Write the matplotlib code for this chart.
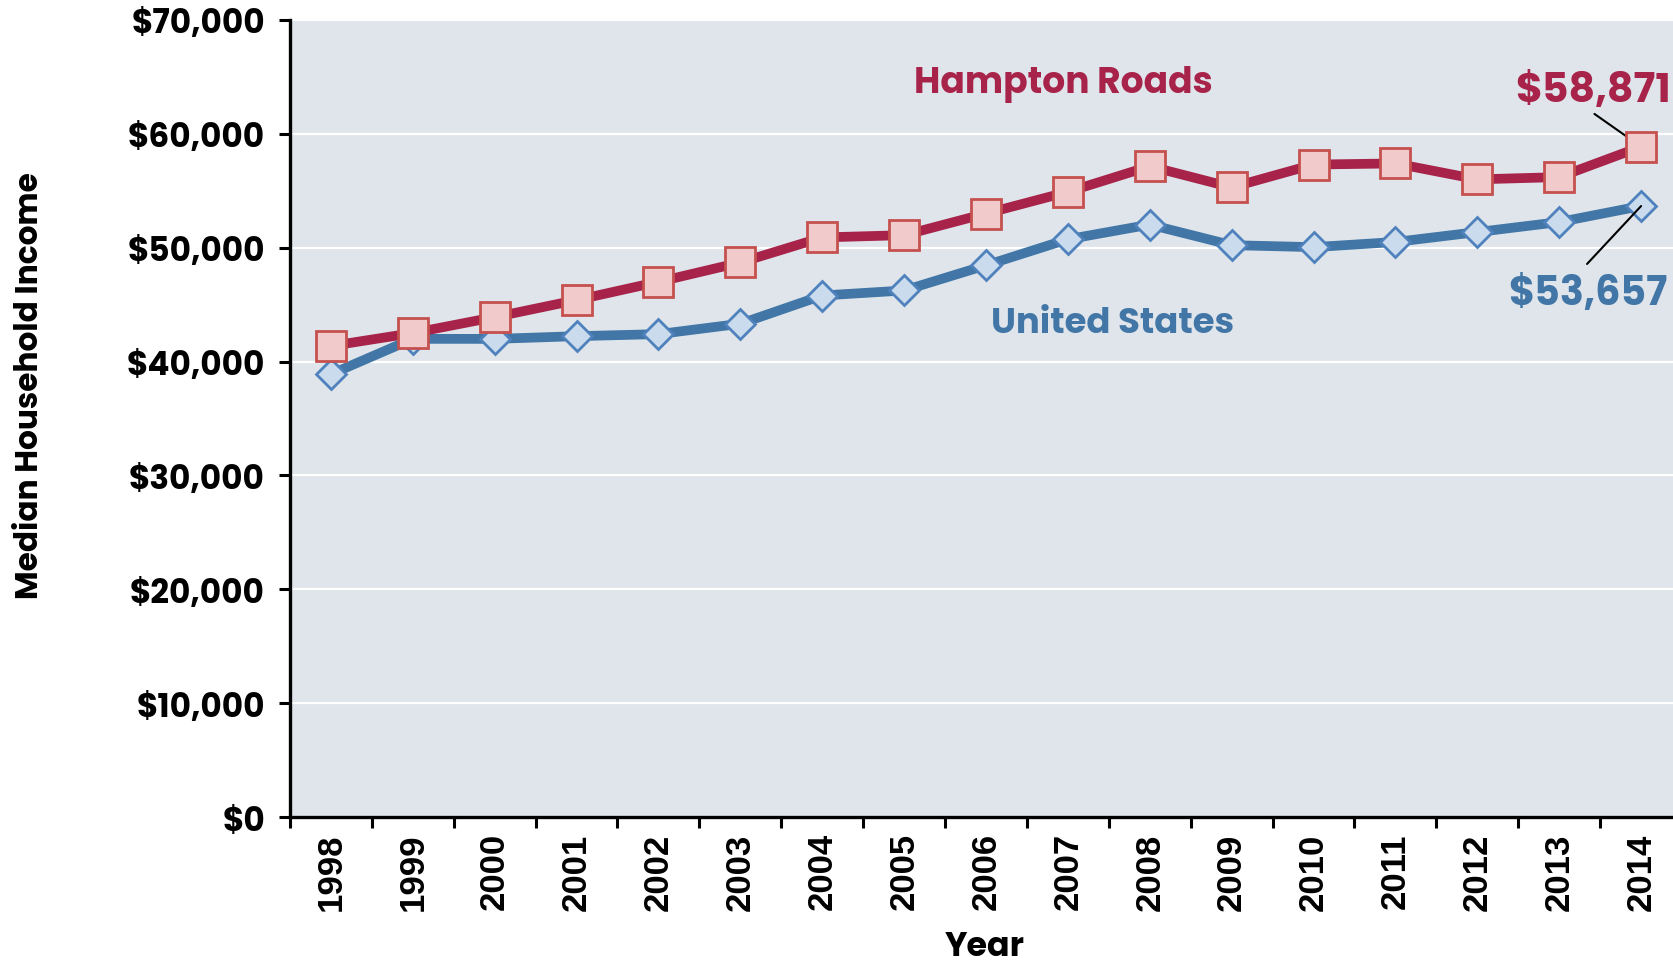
import matplotlib
matplotlib.use("Agg")
import matplotlib.pyplot as plt
from matplotlib import font_manager
from matplotlib.ticker import FuncFormatter, FixedLocator

years = [str(y) for y in range(1998, 2015)]
hampton_roads = [41370, 42500, 43900, 45400, 47000, 48700, 50900, 51100, 53000,
                 54900, 57150, 55300, 57300, 57400, 56000, 56200, 58871]
united_states = [38885, 41994, 41990, 42228, 42409, 43318, 45800, 46242, 48451,
                 50740, 52029, 50221, 50046, 50502, 51371, 52250, 53657]
y_ticks = list(range(0, 70001, 10000))

RED = "#A8234A"
BLUE = "#4176A6"
BG = "#DFE5EB"
TICK = ["Liberation Sans", "DejaVu Sans"]


def pick_heading_font():
    # geometric face with a real bold cut, so the Futura-like look survives
    bold = {f.name for f in font_manager.fontManager.ttflist
            if isinstance(f.weight, int) and f.weight >= 700}
    for name in ["League Spartan", "Poppins", "Kumbh Sans", "Outfit", "Lato"]:
        if name in bold:
            return [name, "DejaVu Sans"]
    return ["DejaVu Sans"]


HEAD = pick_heading_font()
HW = "bold"

fig = plt.figure(figsize=(16.74, 9.70), dpi=100)
ax = fig.add_axes([0.1732, 0.1567, 0.8316, 0.8217])
ax.set_facecolor(BG)

x = list(range(len(years)))
ax.plot(x, hampton_roads, color=RED, lw=7.0, marker="s", ms=21,
        mfc="#F1CBCB", mec="#C5504E", mew=2.0, zorder=4)
ax.plot(x, united_states, color=BLUE, lw=7.0, marker="D", ms=15.5,
        mfc="#CBDBEE", mec="#4F81BD", mew=2.0, zorder=3)

ax.set_xlim(-0.5, len(years) - 0.5)
ax.set_ylim(0, 70000)
ax.set_yticks(y_ticks)
ax.yaxis.set_major_formatter(FuncFormatter(lambda v, p: f"${v:,.0f}"))
ax.grid(axis="y", color="white", lw=1.6)
ax.set_axisbelow(True)

ax.set_xticks(x)
ax.set_xticklabels(years, rotation=90, fontfamily=TICK, fontweight="bold", fontsize=25)
ax.xaxis.set_minor_locator(FixedLocator([i - 0.5 for i in range(len(years) + 1)]))
ax.tick_params(axis="x", which="major", length=0, pad=11)
ax.tick_params(axis="x", which="minor", length=8, width=2.2, direction="out")
ax.tick_params(axis="y", length=8, width=2.2, pad=10)
for lab in ax.get_yticklabels():
    lab.set_fontfamily(HEAD)
    lab.set_fontweight(HW)
    lab.set_fontsize(23.5)

for side in ["top", "right"]:
    ax.spines[side].set_visible(False)
for side in ["left", "bottom"]:
    ax.spines[side].set_linewidth(2.4)

fig.text(0.588, 0.0227, "Year", ha="center", va="center", fontfamily=HEAD,
         fontweight=HW, fontsize=24)
fig.text(0.018, 0.602, "Median Household Income", ha="center", va="center",
         rotation=90, fontfamily=HEAD, fontweight=HW, fontsize=22.5)

ax.text(8.95, 64400, "Hampton Roads", color=RED, ha="center", va="center",
        fontfamily=HEAD, fontweight=HW, fontsize=26)
ax.text(9.55, 43300, "United States", color=BLUE, ha="center", va="center",
        fontfamily=HEAD, fontweight=HW, fontsize=25.5)

# end-of-series value callouts with leader lines
ax.text(15.41, 63760, f"${hampton_roads[-1]:,}", color=RED, ha="center", va="center",
        fontfamily=HEAD, fontweight=HW, fontsize=29.5)
ax.annotate("", xy=(16, hampton_roads[-1]), xytext=(15.43, 61750),
            arrowprops=dict(arrowstyle="-", color="black", lw=1.5,
                            shrinkA=0, shrinkB=0))
ax.text(15.35, 45930, f"${united_states[-1]:,}", color=BLUE, ha="center", va="center",
        fontfamily=HEAD, fontweight=HW, fontsize=28.5)
ax.annotate("", xy=(16, united_states[-1]), xytext=(15.34, 48570),
            arrowprops=dict(arrowstyle="-", color="black", lw=1.5,
                            shrinkA=0, shrinkB=0))

fig.savefig("out.png", dpi=100)
